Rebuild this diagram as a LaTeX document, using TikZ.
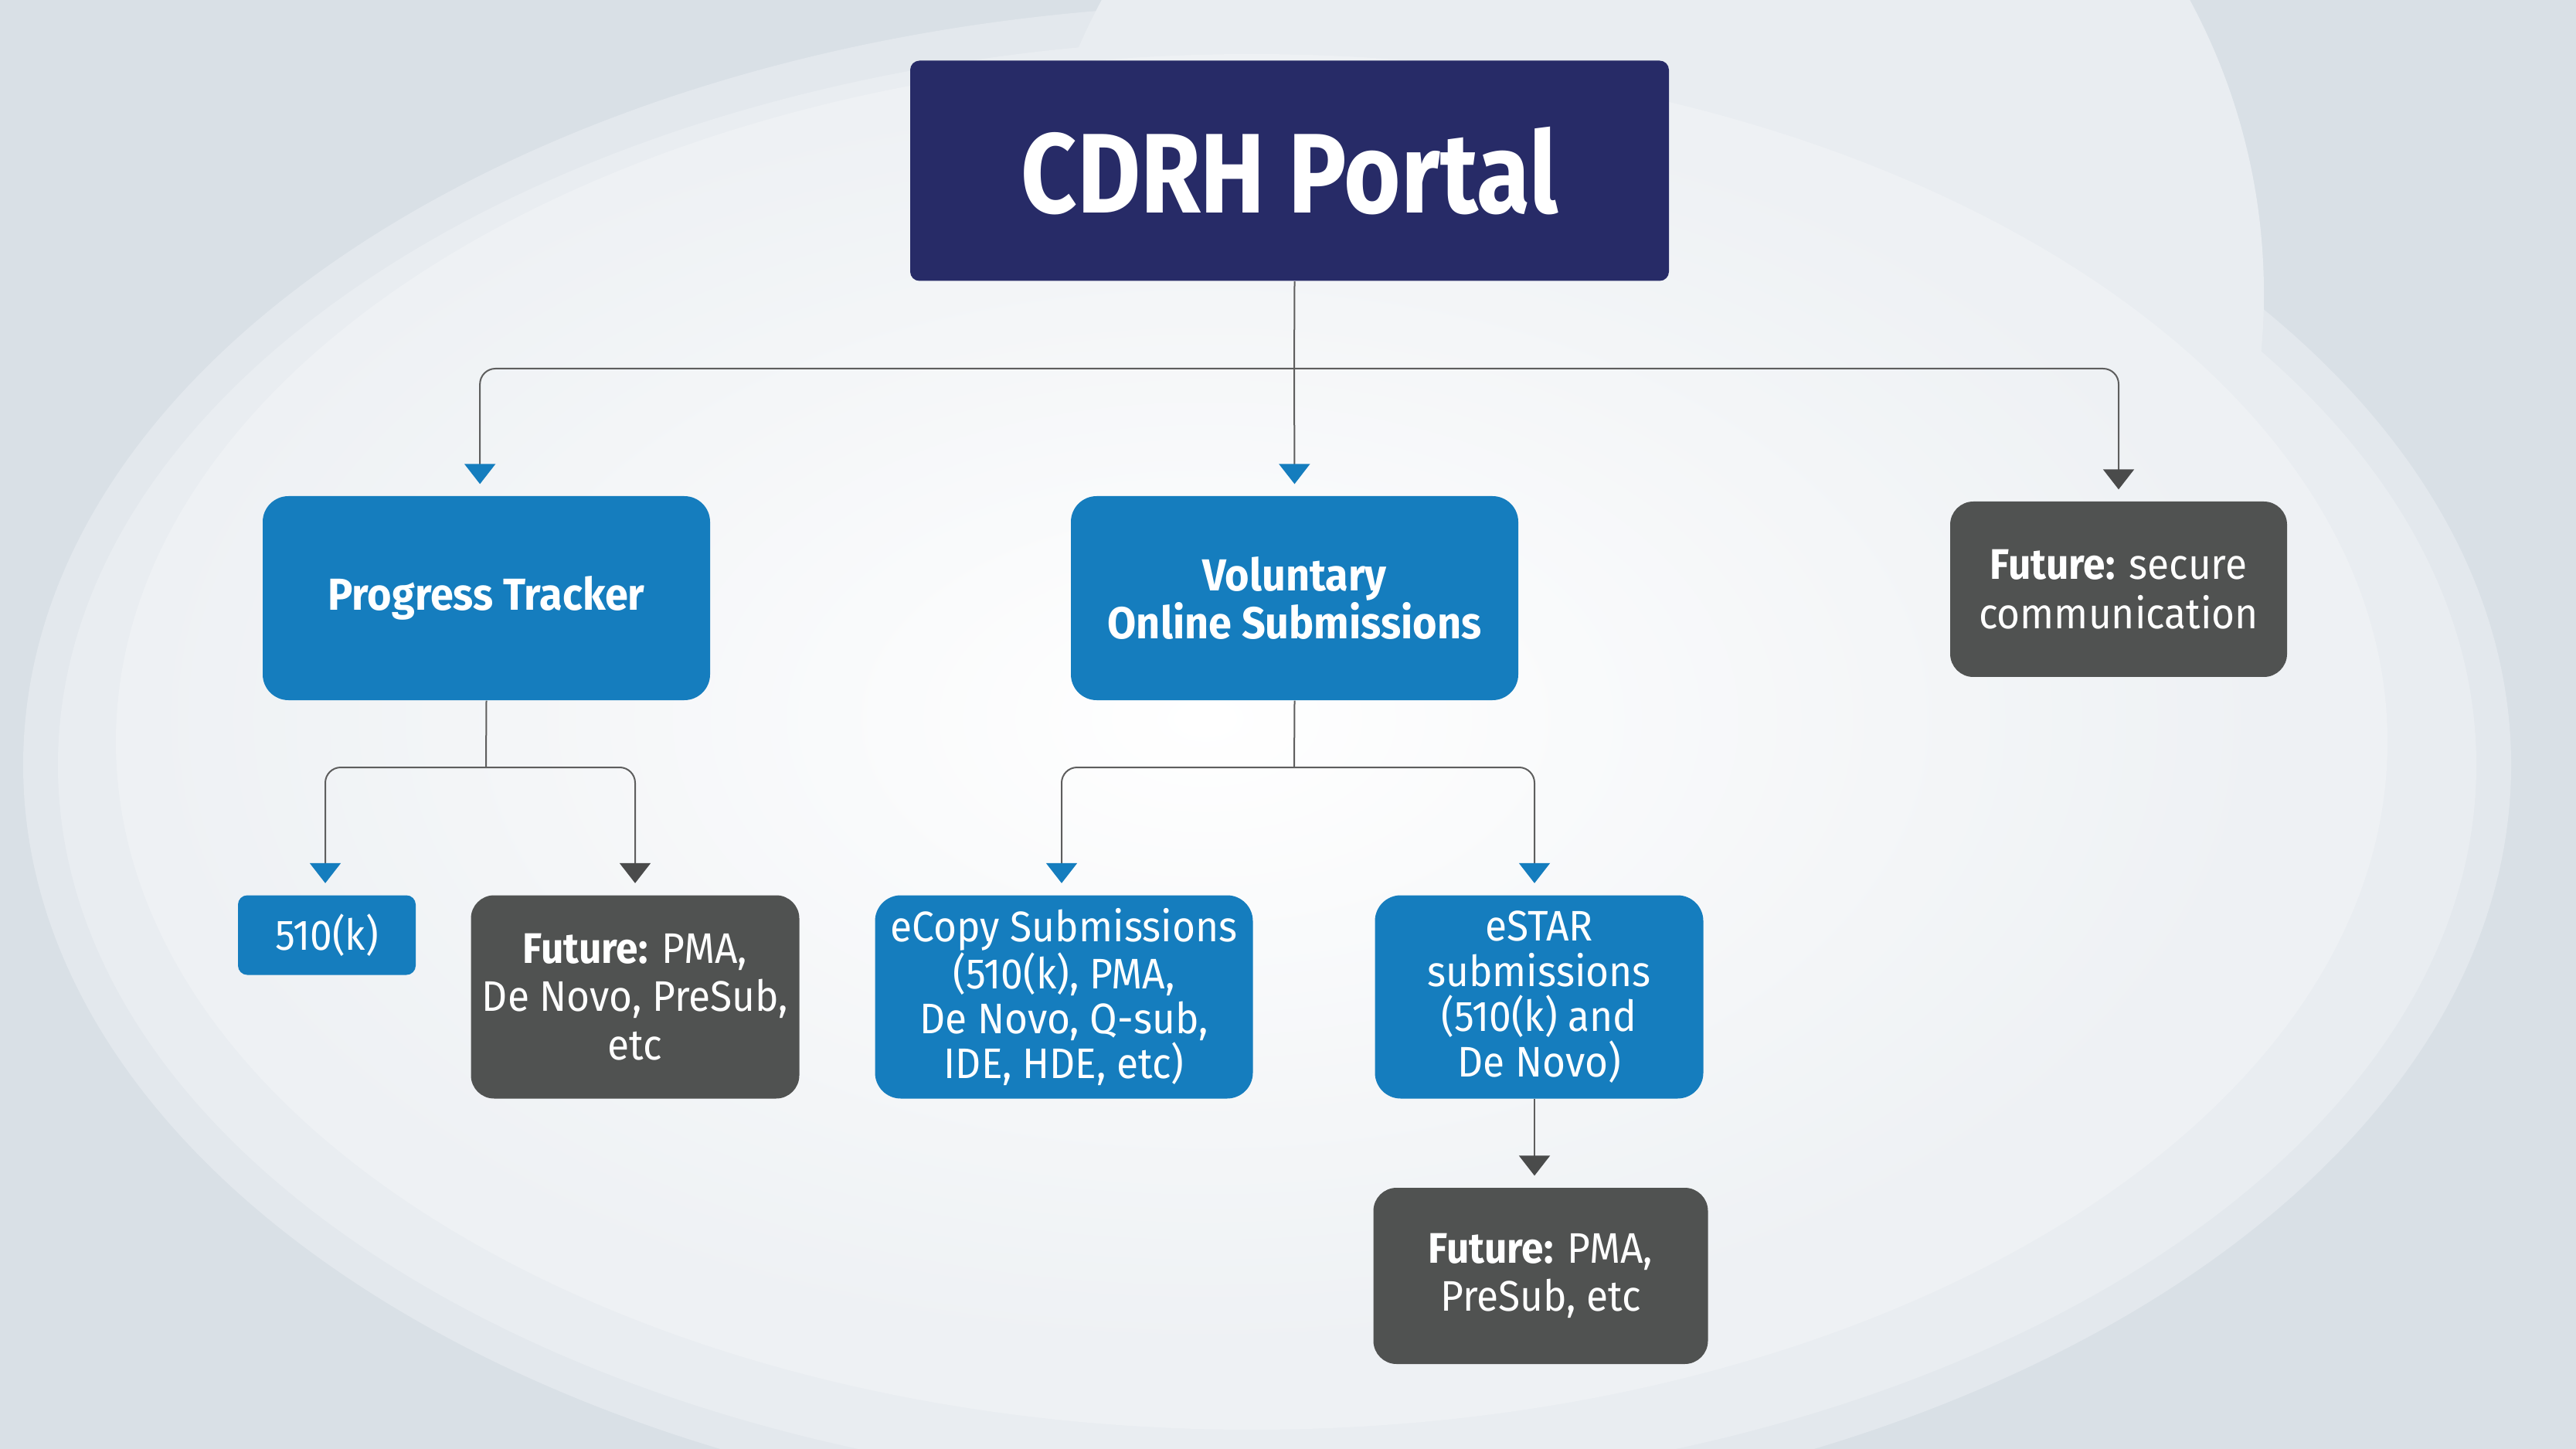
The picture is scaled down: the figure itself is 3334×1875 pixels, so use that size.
\documentclass[tikz,border=0pt]{standalone}
\usepackage{fontspec}
\setmainfont{Fira Sans}[FakeStretch=0.93]
\newfontfamily\portalfont{Fira Sans}[FakeStretch=0.86]
\usetikzlibrary{arrows.meta,calc}
\definecolor{navy}{HTML}{272B67}
\definecolor{boxblue}{HTML}{157DBE}
\definecolor{boxgray}{HTML}{505251}
\definecolor{linegray}{HTML}{5E5E5E}
\definecolor{tipgray}{HTML}{4A4B4B}
\definecolor{bgA}{HTML}{D9E0E6}
\definecolor{bgB}{HTML}{E3E8ED}
\definecolor{bgC}{HTML}{E9EDF1}
\definecolor{bgD}{HTML}{EEF1F4}
\definecolor{bgE}{HTML}{F2F4F6}
\tikzset{
  bluebox/.style={fill=boxblue, text=white, align=center, inner sep=0pt, rounded corners=10pt},
  graybox/.style={fill=boxgray, text=white, align=center, inner sep=0pt, rounded corners=9pt},
  conn/.style={draw=linegray, line width=0.6pt},
  bluetip/.style={conn, -{Triangle[width=12pt,length=7.8pt,color=boxblue]}, shorten >=4.5pt},
  graytip/.style={conn, -{Triangle[width=12pt,length=7.8pt,color=tipgray]}, shorten >=4.5pt},
  txt/.style={font=\fontsize{16.6}{18.8}\selectfont},
  btxt/.style={font=\fontsize{17.4}{18.8}\selectfont\bfseries},
}
\begin{document}
\begin{tikzpicture}[x=0.3pt,y=-0.3pt]
\useasboundingbox (0,0) rectangle (3334,1875);
% background
\fill[bgA] (0,0) rectangle (3334,1875);
\fill[bgB] (1640,990) ellipse [x radius=1610, y radius=985];
\fill[bgC] (2130,380) circle [radius=800];
\fill[bgC] (1640,990) ellipse [x radius=1565, y radius=940];
\fill[bgD] (1620,960) ellipse [x radius=1470, y radius=890];
\shade[inner color=white, outer color=bgD] (1560,930) ellipse [x radius=1380, y radius=820];

% nodes
\node[fill=navy, text=white, inner sep=0pt, rounded corners=3.6pt,
      minimum width=294.6pt, minimum height=85.5pt,
      font=\portalfont\fontsize{44}{48}\selectfont\bfseries] (portal) at (1669,221) {CDRH Portal};
\node[bluebox, btxt, minimum width=173.7pt, minimum height=79.2pt] (pt) at (629.5,774) {Progress Tracker};
\node[bluebox, btxt, minimum width=173.7pt, minimum height=79.2pt] (vos) at (1675.5,774) {Voluntary\\Online Submissions};
\node[graybox, txt, minimum width=130.8pt, minimum height=68.1pt, font=\fontsize{16.6}{19}\selectfont] (fsec) at (2742,762.5) {\textbf{Future:} secure\\communication};

\node[bluebox, txt, rounded corners=3.6pt, minimum width=69pt, minimum height=30.9pt] (k510) at (423,1210) {510(k)};
\node[graybox, txt, minimum width=127.5pt, minimum height=78.9pt] (fpma) at (822,1290) {\textbf{Future:} PMA,\\De Novo, PreSub,\\etc};
\node[bluebox, txt, minimum width=146.7pt, minimum height=78.9pt, font=\fontsize{16.6}{17.4}\selectfont] (ecopy) at (1377,1290) {eCopy Submissions\\(510(k), PMA,\\De Novo, Q-sub,\\IDE, HDE, etc)};
\node[bluebox, txt, minimum width=127.5pt, minimum height=78.9pt, font=\fontsize{16.6}{17.6}\selectfont] (estar) at (1992,1290) {eSTAR\\submissions\\(510(k) and\\De Novo)};
\node[graybox, txt, minimum width=129.9pt, minimum height=68.4pt] (fpmb) at (1994,1651) {\textbf{Future:} PMA,\\PreSub, etc};

% bus coordinates
\coordinate (busA) at (1675,477);
\coordinate (busB) at (629,993);
\coordinate (busC) at (1675,993);

% level 1
\draw[conn] (vos.north |- portal.south) -- (busA);
\draw[bluetip] (busA) -- (vos.north);
\draw[bluetip, rounded corners=6pt] (busA) -| ([xshift=-2.5pt]pt.north);
\draw[graytip, rounded corners=6pt] (busA) -| (fsec.north);

% level 2 left
\draw[conn] (pt.south) -- (busB);
\draw[bluetip, rounded corners=6pt] (busB) -| ([xshift=-0.6pt]k510.north);
\draw[graytip, rounded corners=6pt] (busB) -| (fpma.north);

% level 2 middle
\draw[conn] (vos.south) -- (busC);
\draw[bluetip, rounded corners=6pt] (busC) -| ([xshift=-0.9pt]ecopy.north);
\draw[bluetip, rounded corners=6pt] (busC) -| ([xshift=-1.8pt]estar.north);

% level 3
\draw[graytip] ([xshift=-1.8pt]estar.south) -- ([xshift=-1.8pt]estar.south |- fpmb.north);
\end{tikzpicture}
\end{document}
